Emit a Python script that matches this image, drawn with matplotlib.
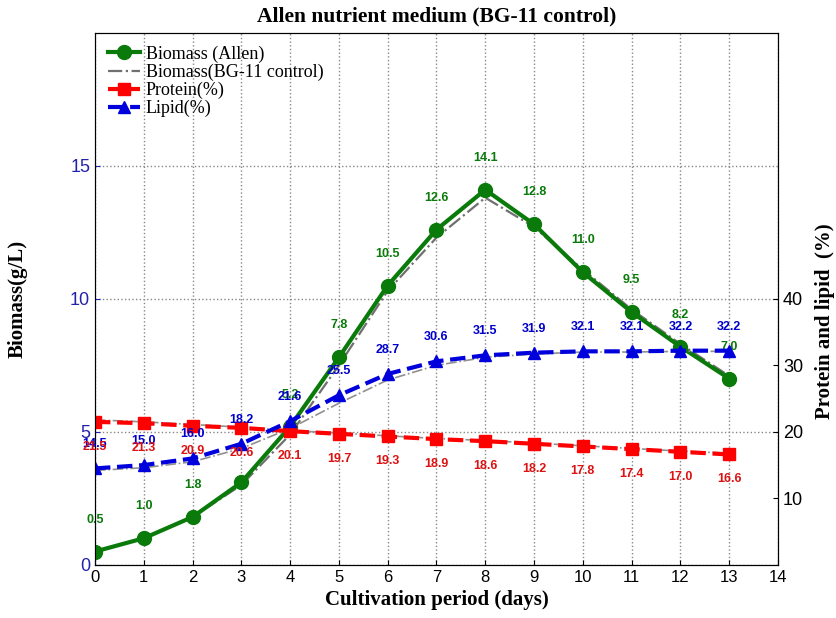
import matplotlib.pyplot as plt
import numpy as np

days = np.arange(14)
biomass_allen = [0.5, 1.0, 1.8, 3.1, 5.2, 7.8, 10.5, 12.6, 14.1, 12.8, 11.0, 9.5, 8.2, 7.0]
biomass_bg11 = [0.5, 1.0, 1.8, 3.0, 4.9, 7.5, 10.3, 12.3, 13.8, 12.7, 11.1, 9.6, 8.3, 7.1]
protein = [21.5, 21.3, 20.9, 20.6, 20.1, 19.7, 19.3, 18.9, 18.6, 18.2, 17.8, 17.4, 17.0, 16.6]
protein_ctrl = [21.8, 21.5, 21.1, 20.7, 20.2, 19.8, 19.4, 19.0, 18.7, 18.3, 17.9, 17.5, 17.1, 16.8]
lipid = [14.5, 15.0, 16.0, 18.2, 21.6, 25.5, 28.7, 30.6, 31.5, 31.9, 32.1, 32.1, 32.2, 32.2]
lipid_ctrl = [14.2, 14.6, 15.5, 17.5, 20.5, 24.3, 27.8, 30.0, 31.2, 31.7, 32.0, 32.0, 32.1, 32.1]

serif = 'Liberation Serif'
sans = 'Liberation Sans'
green = '#0a7a0a'

fig = plt.figure(figsize=(8.37, 6.18), dpi=100)
ax = fig.add_axes([0.1135, 0.086, 0.816, 0.861])
ax2 = ax.twinx()

ax.plot(days, biomass_bg11, color='#707070', ls='-.', lw=1.6, zorder=3,
        label='Biomass(BG-11 control)')
ax.plot(days, biomass_allen, color=green, marker='o', ms=10, lw=3, zorder=4,
        label='Biomass (Allen)')

ax2.plot(days, protein_ctrl, color='#909090', ls='-.', lw=1.2)
ax2.plot(days, lipid_ctrl, color='#909090', ls='-.', lw=1.2)
ax2.plot(days, protein, color='#ff0000', marker='s', ms=8, lw=3, ls='--',
         label='Protein(%)')
ax2.plot(days, lipid, color='#0000dd', marker='^', ms=9, lw=3, ls='--',
         label='Lipid(%)')

# value labels
for i, v in enumerate(biomass_allen):
    if i == 3:
        continue
    ax.annotate(f'{v:.1f}', (days[i], v), xytext=(0, 32), textcoords='offset pixels',
                ha='center', va='center', color=green, fontsize=9, family=sans,
                fontweight='bold')
for i, v in enumerate(lipid):
    ax2.annotate(f'{v:.1f}', (days[i], v), xytext=(0, 24), textcoords='offset pixels',
                 ha='center', va='center', color='#0000cc', fontsize=9, family=sans,
                 fontweight='bold')
for i, v in enumerate(protein):
    ax2.annotate(f'{v:.1f}', (days[i], v), xytext=(0, -25), textcoords='offset pixels',
                 ha='center', va='center', color='#dd1111', fontsize=9, family=sans,
                 fontweight='bold')

ax.set_xlim(0, 14)
ax.set_ylim(0, 20)
ax2.set_ylim(0, 80)
ax.set_xticks(range(15))
ax.set_yticks([0, 5, 10, 15])
ax2.set_yticks([10, 20, 30, 40])

ax.grid(True, ls=':', color='#888888', lw=1)
ax.tick_params(axis='y', colors='#2222aa', labelsize=13, direction='in')
ax.tick_params(axis='x', labelsize=12, direction='in')
ax2.tick_params(axis='y', labelsize=13, direction='in')
for lab in ax.get_xticklabels() + ax.get_yticklabels() + ax2.get_yticklabels():
    lab.set_family(sans)
ax.spines['left'].set_color('#2222aa')

ax.set_xlabel('Cultivation period (days)', fontsize=15, fontweight='bold', family=serif)
ax.set_ylabel('Biomass(g/L)', fontsize=15, fontweight='bold', family=serif)
ax.yaxis.set_label_coords(-0.098, 0.5)
ax2.set_ylabel('Protein and lipid  (%)', fontsize=15, fontweight='bold', family=serif)
ax2.yaxis.set_label_coords(1.054, 0.457)
ax.set_title('Allen nutrient medium (BG-11 control)', fontsize=15.5, fontweight='bold',
             family=serif, pad=8)

h1, l1 = ax.get_legend_handles_labels()
h2, l2 = ax2.get_legend_handles_labels()
handles = [h1[1], h1[0], h2[0], h2[1]]
labels = [l1[1], l1[0], l2[0], l2[1]]
ax2.legend(handles, labels, loc='upper left', frameon=False, handlelength=1.8,
           handletextpad=0.3, prop={'family': serif, 'size': 13},
           borderaxespad=0.3, labelspacing=0.05)

fig.savefig('out.png', dpi=100)
